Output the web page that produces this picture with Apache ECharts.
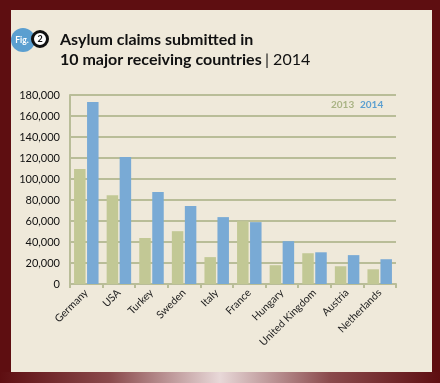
<!DOCTYPE html>
<html><head><meta charset="utf-8">
<script src="https://cdn.jsdelivr.net/npm/echarts@6/dist/echarts.min.js"></script>
<style>
html,body{margin:0;padding:0;width:440px;height:383px;overflow:hidden;background:#5e0e11;}
#panel{position:absolute;left:11px;top:10px;width:421px;height:362px;background:#efe9da;}
#bar{position:absolute;left:0;top:372px;width:440px;height:11px;background:linear-gradient(to right,#5e0e11 0%,#8a4a4c 25%,#e8d8d8 50%,#8a4a4c 75%,#5e0e11 100%);}
#chart{position:absolute;left:0;top:0;width:440px;height:383px;}
</style></head>
<body><div id="panel"></div><div id="bar"></div><div id="chart"></div>
<script>
const categories = ['Germany','USA','Turkey','Sweden','Italy','France','Hungary','United Kingdom','Austria','Netherlands'];
const values2013 = [109500, 84600, 43800, 50300, 25600, 59800, 17900, 29300, 16900, 14000];
const values2014 = [173300, 121000, 87600, 74200, 63700, 58900, 40800, 30200, 27500, 23600];
const seriesNames = ['2013','2014'];
const yTicks = {min:0, max:180000, interval:20000};

const green = '#c2c895', blue = '#79aad5', gridCol = '#b9bd98';
const chart = echarts.init(document.getElementById('chart'), null, {renderer:'canvas'});
chart.setOption({
  backgroundColor:'transparent',
  animation:false,
  textStyle:{fontFamily:'Lato'},
  grid:{left:70, right:44, top:95, bottom:99},
  xAxis:{type:'category', data:categories,
    axisLine:{lineStyle:{color:gridCol, width:2}},
    axisTick:{show:true, length:4, lineStyle:{color:gridCol, width:2}},
    axisLabel:{rotate:45, fontSize:10.5, color:'#222', margin:7, interval:0, fontFamily:'Lato'}},
  yAxis:{type:'value', min:yTicks.min, max:yTicks.max, interval:yTicks.interval,
    axisLine:{show:true, lineStyle:{color:gridCol, width:2}},
    axisTick:{show:false},
    splitLine:{lineStyle:{color:gridCol, width:2}},
    axisLabel:{fontSize:11, color:'#111', margin:10, fontFamily:'Lato',
      formatter:v=>v.toLocaleString('en-US')}},
  series:[
    {name:seriesNames[0], type:'bar', data:values2013, itemStyle:{color:green}, barWidth:11.5, barGap:'13%'},
    {name:seriesNames[1], type:'bar', data:values2014, itemStyle:{color:blue}, barWidth:11.5, barGap:'13%'}
  ],
  graphic:[
    {type:'circle', shape:{cx:23, cy:40, r:12}, style:{fill:'#5b9fd0'}, z:10},
    {type:'text', style:{x:22, y:40, text:'Fig.', fill:'#fff', font:'bold 8.5px Lato', align:'center', verticalAlign:'middle'}, z:11},
    {type:'circle', shape:{cx:40, cy:39, r:7.5}, style:{fill:'#fff', stroke:'#111', lineWidth:3}, z:12},
    {type:'text', style:{x:40, y:39.5, text:'2', fill:'#111', font:'bold 9px Lato', align:'center', verticalAlign:'middle'}, z:13},
    {type:'text', style:{x:60, y:40, text:'Asylum claims submitted in', fill:'#111', font:'bold 16px Lato', verticalAlign:'middle'}},
    {type:'text', style:{x:60, y:60, text:'{b|10 major receiving countries} {n|| 2014}', verticalAlign:'middle',
      rich:{b:{fill:'#111', fontWeight:'bold', fontSize:16, fontFamily:'Lato'}, n:{fill:'#111', fontSize:16, fontFamily:'Lato'}}}},
    {type:'text', style:{x:331, y:105, text:seriesNames[0], fill:'#a9b384', font:'bold 10px Lato', verticalAlign:'middle'}},
    {type:'text', style:{x:360, y:105, text:seriesNames[1], fill:'#5b9fd0', font:'bold 10px Lato', verticalAlign:'middle'}}
  ]
});
</script></body></html>
